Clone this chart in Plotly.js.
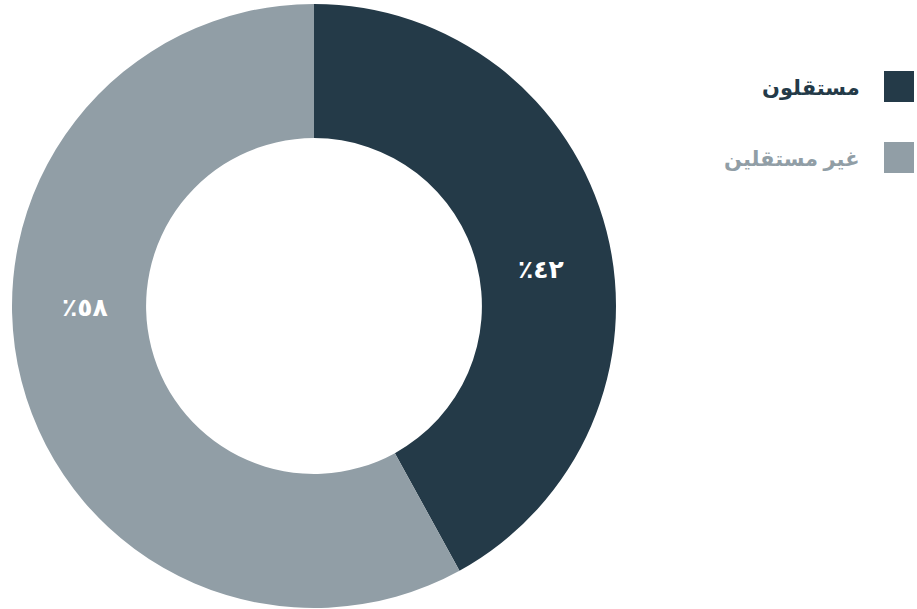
<!DOCTYPE html>
<html><head><meta charset="utf-8">
<script src="https://cdn.plot.ly/plotly-3.0.1.min.js"></script>
<style>html,body{margin:0;padding:0;background:#fff}#c{width:917px;height:609px}</style>
</head><body><div id="c"></div>
<script>
const categories = ["مستقلون", "غير مستقلين"];
const values = [42, 58];
const valueLabels = ["٪٤٢", "٪٥٨"];
const colors = ["#243a48", "#919ea6"];

const W = 917, H = 609;
const FONT = "Noto Sans, DejaVu Sans, sans-serif";
const trace = {
  type: "pie",
  labels: categories,
  values: values,
  textinfo: "none",
  sort: false,
  direction: "clockwise",
  rotation: 0,
  hole: 0.556,
  marker: {colors: colors, line: {width: 0}},
  domain: {x: [12 / W, 616 / W], y: [1 - 608 / H, 1 - 4 / H]},
  showlegend: false,
  hoverinfo: "label+percent"
};

const annotations = [], shapes = [];
categories.forEach((c, i) => {
  const top = 71 + i * 71;
  shapes.push({type: "rect", xref: "paper", yref: "paper",
    x0: 884 / W, x1: 914 / W, y0: 1 - (top + 31) / H, y1: 1 - top / H,
    fillcolor: colors[i], line: {width: 0}});
  annotations.push({xref: "paper", yref: "paper", x: 862 / W, y: 1 - (top + 16) / H,
    xanchor: "right", yanchor: "middle", showarrow: false, text: "<b>" + c + "</b>",
    font: {family: FONT, size: 21, color: colors[i]}});
});
const labelPos = [[541, 268], [85, 306]];
valueLabels.forEach((t, i) => {
  annotations.push({xref: "paper", yref: "paper", x: labelPos[i][0] / W, y: 1 - labelPos[i][1] / H,
    xanchor: "center", yanchor: "middle", showarrow: false, text: "<b>" + t + "</b>",
    font: {family: FONT, size: 25, color: "#ffffff"}});
});

Plotly.newPlot("c", [trace], {
  width: W, height: H,
  margin: {l: 0, r: 0, t: 0, b: 0},
  paper_bgcolor: "#ffffff",
  annotations: annotations,
  shapes: shapes
}, {displayModeBar: false});
</script></body></html>
